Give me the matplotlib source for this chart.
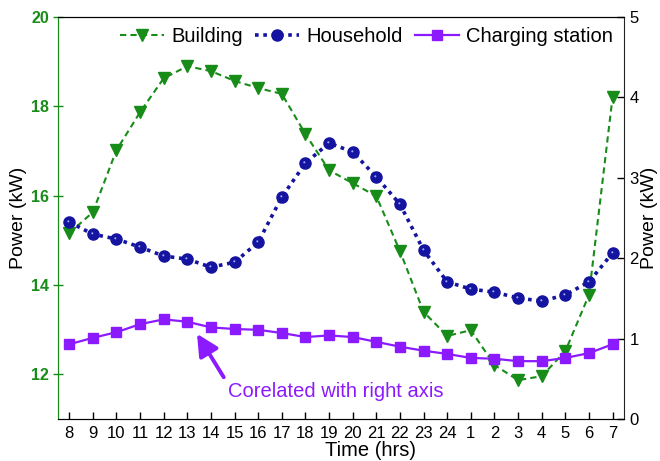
import matplotlib
matplotlib.use("Agg")
import matplotlib.pyplot as plt
import numpy as np
from matplotlib.path import Path

plt.rcParams['font.family'] = ['Liberation Sans', 'DejaVu Sans']

hours = ["8", "9", "10", "11", "12", "13", "14", "15", "16", "17", "18", "19",
         "20", "21", "22", "23", "24", "1", "2", "3", "4", "5", "6", "7"]

building = [15.16, 15.63, 17.02, 17.87, 18.63, 18.90, 18.79, 18.57, 18.41, 18.28,
            17.38, 16.57, 16.28, 15.99, 14.76, 13.40, 12.86, 12.99, 12.21, 11.87,
            11.96, 12.52, 13.78, 18.21]

household = [15.41, 15.14, 15.03, 14.85, 14.65, 14.58, 14.40, 14.51, 14.96, 15.97,
             16.73, 17.18, 16.98, 16.42, 15.81, 14.78, 14.07, 13.91, 13.84, 13.71,
             13.64, 13.78, 14.07, 14.72]

charging = [0.93, 1.01, 1.08, 1.18, 1.24, 1.21, 1.14, 1.12, 1.11, 1.07, 1.02, 1.04,
            1.02, 0.96, 0.90, 0.85, 0.81, 0.76, 0.75, 0.72, 0.72, 0.76, 0.82, 0.93]

GREEN = '#188c18'
NAVY = '#1414a0'
PURPLE = '#8c1aff'

x = np.arange(len(hours))

fig = plt.figure(figsize=(6.6, 4.61), dpi=100)
ax = fig.add_axes([0.088, 0.091, 0.857, 0.872])
ax2 = ax.twinx()

lb, = ax.plot(x, building, color=GREEN, ls=(0, (3, 2)), lw=1.5, marker='v',
              ms=9, mfc=GREEN, mec=GREEN, label='Building')
lh, = ax.plot(x, household, color=NAVY, ls=(0, (1, 1.3)), lw=2.6, marker='o',
              ms=8, mfc=NAVY, mec=NAVY, label='Household')
# small highlight on the spheres
t = np.linspace(0, 2 * np.pi, 30)
spot = Path(np.column_stack([-0.18 + 0.16 * np.cos(t), 0.18 + 0.16 * np.sin(t)]))
ax.plot(x, household, ls='none', marker=spot, ms=3.2, mfc='#9aa6ff',
        mec='none', zorder=3)
lc, = ax2.plot(x, charging, color=PURPLE, ls='-', lw=1.6, marker='s',
               ms=7, mfc=PURPLE, mec=PURPLE, label='Charging station')

ax.set_xlim(-0.47, 23.47)
ax.set_ylim(11, 20)
ax2.set_ylim(0, 5)

ax.set_xticks(x)
ax.set_xticklabels(hours, fontsize=12)
ax.set_yticks([12, 14, 16, 18, 20])
ax.set_yticklabels(['12', '14', '16', '18', '20'], fontsize=11.5,
                   fontweight='bold', color=GREEN)
ax2.set_yticks([0, 1, 2, 3, 4, 5])
ax2.set_yticklabels(['0', '1', '2', '3', '4', '5'], fontsize=12)

ax.tick_params(axis='x', direction='in', length=5, width=1, pad=5)
ax.tick_params(axis='y', direction='inout', length=7, width=1, colors=GREEN, pad=3)
ax2.tick_params(axis='y', direction='in', length=5, width=1, pad=4)

for s in ['top', 'bottom']:
    ax.spines[s].set_color('#222222')
ax.spines['left'].set_color(GREEN)
ax2.spines['left'].set_color(GREEN)
ax2.spines['right'].set_color('#222222')
ax.spines['right'].set_visible(False)

ax.set_xlabel('Time (hrs)', fontsize=14.5, labelpad=0)
ax.xaxis.set_label_coords(0.552, -0.055)
ax.set_ylabel('Power (kW)', fontsize=14, labelpad=3)
ax2.set_ylabel('Power (kW)', fontsize=14, labelpad=2)

ax.legend(handles=[lb, lh, lc], loc='upper center', ncol=3, frameon=False,
          fontsize=14.5, handlelength=2.2, columnspacing=0.6, handletextpad=0.35,
          borderaxespad=0.1, bbox_to_anchor=(0.545, 1.0))

ax2.annotate('Corelated with right axis', xy=(5.41, 1.06), xytext=(6.72, 0.34),
             fontsize=14.5, color=PURPLE, ha='left', va='center',
             arrowprops=dict(arrowstyle='-|>,head_length=0.9,head_width=0.45',
                             color=PURPLE, lw=2.8, shrinkA=2, shrinkB=0,
                             relpos=(0.0, 0.9)))

fig.savefig('out.png', dpi=100)
